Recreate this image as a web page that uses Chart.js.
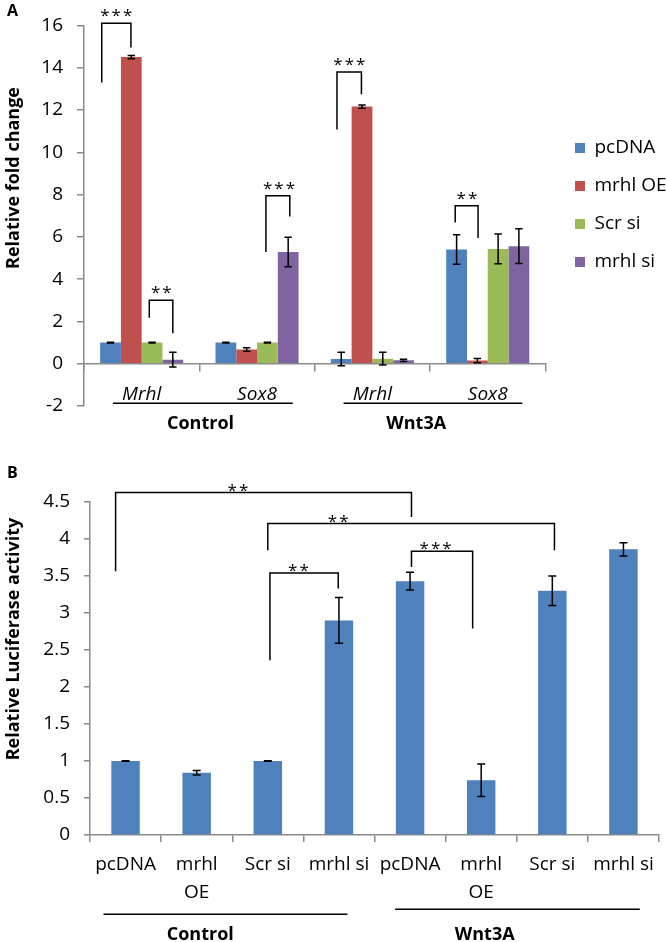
<!DOCTYPE html>
<html>
<head>
<meta charset="utf-8">
<script src="https://cdn.jsdelivr.net/npm/chart.js@4.4.1/dist/chart.umd.min.js"></script>
<style>
  body { margin: 0; background: #fff; font-family: "Open Sans", sans-serif; }
  .panel { position: absolute; left: 0; width: 666px; }
  #panel-a { top: 0; height: 436px; }
  #panel-b { top: 436px; height: 506px; }
  .letter { position: absolute; left: 7px; font-weight: bold; font-size: 16px; line-height: 1; }
</style>
</head>
<body>
<div class="panel" id="panel-a"><canvas id="chart-a"></canvas></div>
<div class="panel" id="panel-b"><canvas id="chart-b"></canvas></div>
<div class="letter" style="top:2px">A</div>
<div class="letter" style="top:464px">B</div>
<script>
// ---- panel A: relative fold change ----
const genesA = ['Mrhl', 'Sox8', 'Mrhl', 'Sox8'];
const seriesA = ['pcDNA', 'mrhl OE', 'Scr si', 'mrhl si'];
const pcdnaA = [1.0, 1.0, 0.22, 5.4];
const mrhlOeA = [14.5, 0.67, 12.16, 0.15];
const scrSiA = [1.0, 1.0, 0.24, 5.43];
const mrhlSiA = [0.19, 5.28, 0.16, 5.56];
const pcdnaErrA = [0.02, 0.02, 0.32, 0.7];
const mrhlOeErrA = [0.08, 0.08, 0.08, 0.1];
const scrSiErrA = [0.02, 0.02, 0.3, 0.7];
const mrhlSiErrA = [0.35, 0.7, 0.05, 0.82];
const ticksA = [-2, 16, 2]; // min, max, step

// ---- panel B: relative luciferase activity ----
const treatB = ['pcDNA', ['mrhl', 'OE'], 'Scr si', 'mrhl si', 'pcDNA', ['mrhl', 'OE'], 'Scr si', 'mrhl si'];
const luciferase = [1.0, 0.84, 1.0, 2.9, 3.43, 0.74, 3.3, 3.86];
const luciferaseErr = [0.005, 0.03, 0.005, 0.31, 0.12, 0.22, 0.2, 0.09];
const ticksB = [0, 4.5, 0.5];

// significance brackets (x in category units, y in data units)
const sigA = [
  { from: -0.346, to: -0.093, top: 16.1, left: 13.3, right: 14.96, stars: '***', at: -0.22 },
  { from: 1.693, to: 1.905, top: 13.8, left: 11.08, right: 12.74, stars: '***', at: 1.80 },
  { from: 0.066, to: 0.27, top: 3.0, left: 2.17, right: 1.44, stars: '**', at: 0.17 },
  { from: 1.077, to: 1.284, top: 7.94, left: 5.28, right: 6.96, stars: '***', at: 1.19 },
  { from: 2.718, to: 2.916, top: 7.47, left: 6.68, right: 5.95, stars: '**', at: 2.82 }
];
const sigB = [
  { from: -0.14, to: 4.02, top: 4.627, left: 3.564, right: 4.297, stars: '**', at: 1.58 },
  { from: 2.0, to: 6.03, top: 4.208, left: 3.848, right: 3.848, stars: '**', at: 2.99 },
  { from: 2.03, to: 2.99, top: 3.54, left: 2.363, right: 3.33, stars: '**', at: 2.43 },
  { from: 4.02, to: 4.88, top: 3.834, left: 3.62, right: 2.79, stars: '***', at: 4.36 }
];
const groupsA = [
  { label: 'Control', from: -0.25, to: 1.31, at: 0.51, lift: 0 },
  { label: 'Wnt3A', from: 1.75, to: 3.3, at: 2.38, lift: 0 }
];
const groupsB = [
  { label: 'Control', from: -0.31, to: 3.12, at: 1.05, lift: 0 },
  { label: 'Wnt3A', from: 3.79, to: 7.23, at: 5.05, lift: 5 }
];

const colors = ['#4F81BD', '#C0504D', '#9BBB59', '#8064A2'];
const axisGray = '#8a8a8a';
const FONT = '"Open Sans", sans-serif';

Chart.defaults.font.family = FONT;
Chart.defaults.color = '#000';

// error bars, brackets, group labels and the y title
function makeExtras(cfg) {
  return {
    id: 'extras',
    beforeLayout(chart) {
      if (chart.legend && cfg.legendWidth) {
        chart.legend.afterFit = function () { this.width = cfg.legendWidth; };
      }
    },
    afterLayout(chart) {
      const l = chart.legend;
      if (cfg.legendX && l) {
        const dx = cfg.legendX - l.left;
        l.left += dx; l.right += dx;
        l.top += cfg.legendDy; l.bottom += cfg.legendDy;
      }
    },
    afterDatasetsDraw(chart) {
      const ctx = chart.ctx;
      const xs = chart.scales.x, ys = chart.scales.y;
      ctx.save();
      ctx.strokeStyle = '#000';
      ctx.fillStyle = '#000';
      ctx.lineWidth = 1.5;

      chart.data.datasets.forEach((ds, di) => {
        chart.getDatasetMeta(di).data.forEach((bar, i) => {
          const t = ys.getPixelForValue(ds.data[i] + ds.errors[i]);
          const b = ys.getPixelForValue(ds.data[i] - ds.errors[i]);
          ctx.beginPath();
          ctx.moveTo(bar.x, t); ctx.lineTo(bar.x, b);
          ctx.moveTo(bar.x - cfg.cap, t); ctx.lineTo(bar.x + cfg.cap, t);
          ctx.moveTo(bar.x - cfg.cap, b); ctx.lineTo(bar.x + cfg.cap, b);
          ctx.stroke();
        });
      });

      ctx.font = cfg.starSize + 'px ' + FONT;
      ctx.textAlign = 'center';
      ctx.textBaseline = 'alphabetic';
      ctx.letterSpacing = '2px';
      cfg.brackets.forEach(s => {
        const x1 = xs.getPixelForValue(s.from), x2 = xs.getPixelForValue(s.to);
        const top = ys.getPixelForValue(s.top);
        ctx.beginPath();
        ctx.moveTo(x1, ys.getPixelForValue(s.left));
        ctx.lineTo(x1, top);
        ctx.lineTo(x2, top);
        ctx.lineTo(x2, ys.getPixelForValue(s.right));
        ctx.stroke();
        ctx.fillText(s.stars, xs.getPixelForValue(s.at) + 1, top + cfg.starDy);
      });
      ctx.letterSpacing = '0px';

      const base = ys.getPixelForValue(0);
      ctx.font = 'bold 18px ' + FONT;
      ctx.textBaseline = 'middle';
      cfg.groups.forEach(g => {
        const ly = base + cfg.lineDy - g.lift;
        ctx.beginPath();
        ctx.moveTo(xs.getPixelForValue(g.from), ly);
        ctx.lineTo(xs.getPixelForValue(g.to), ly);
        ctx.stroke();
        ctx.fillText(g.label, xs.getPixelForValue(g.at), base + cfg.labelDy);
      });

      ctx.translate(cfg.titleX, cfg.titleY);
      ctx.rotate(-Math.PI / 2);
      ctx.fillText(cfg.title, 0, 0);
      ctx.restore();
    }
  };
}

const axisBase = (tickLen) => ({
  grid: { display: true, drawOnChartArea: false, drawTicks: true, tickLength: tickLen, color: axisGray, lineWidth: 1.5 },
  border: { display: true, color: axisGray, width: 1.5 }
});
const plainNum = v => String(v);

new Chart(document.getElementById('chart-a'), {
  type: 'bar',
  data: {
    labels: genesA,
    datasets: [pcdnaA, mrhlOeA, scrSiA, mrhlSiA].map((d, i) => ({
      label: seriesA[i],
      data: d,
      errors: [pcdnaErrA, mrhlOeErrA, scrSiErrA, mrhlSiErrA][i],
      backgroundColor: colors[i],
      borderWidth: 0,
      categoryPercentage: 0.72,
      barPercentage: 1.0
    }))
  },
  options: {
    responsive: true,
    maintainAspectRatio: false,
    animation: false,
    layout: { padding: { top: 20, bottom: 30, left: 0, right: 0 } },
    plugins: {
      tooltip: { enabled: false },
      legend: {
        position: 'right',
        align: 'center',
        labels: { boxWidth: 10, boxHeight: 10, padding: 19, font: { size: 19 }, color: '#000' }
      }
    },
    scales: {
      x: Object.assign(axisBase(7), {
        position: { y: 0 },
        ticks: { font: { size: 19, style: 'italic' }, padding: 12, color: '#000' }
      }),
      y: Object.assign(axisBase(7), {
        min: ticksA[0], max: ticksA[1],
        ticks: { stepSize: ticksA[2], font: { size: 19 }, padding: 14, color: '#000', callback: plainNum },
        afterFit: s => { s.width = 84; }
      })
    }
  },
  plugins: [makeExtras({
    cap: 3.7, starSize: 17, starDy: -2, brackets: sigA, groups: groupsA,
    lineDy: 39.5, labelDy: 60, title: 'Relative fold change', titleX: 14, titleY: 178,
    legendWidth: 123, legendX: 556, legendDy: -8
  })]
});

new Chart(document.getElementById('chart-b'), {
  type: 'bar',
  data: {
    labels: treatB,
    datasets: [{
      label: 'Relative Luciferase activity',
      data: luciferase,
      errors: luciferaseErr,
      backgroundColor: colors[0],
      borderWidth: 0,
      categoryPercentage: 1.0,
      barPercentage: 0.4
    }]
  },
  options: {
    responsive: true,
    maintainAspectRatio: false,
    animation: false,
    layout: { padding: { top: 66, bottom: 0, left: 0, right: 7 } },
    plugins: {
      tooltip: { enabled: false },
      legend: { display: false }
    },
    scales: {
      x: Object.assign(axisBase(7), {
        ticks: { font: { size: 19, lineHeight: 1.46 }, padding: 9, color: '#000', maxRotation: 0, autoSkip: false },
        afterFit: s => { s.height = 107; }
      }),
      y: Object.assign(axisBase(6), {
        min: ticksB[0], max: ticksB[1],
        ticks: { stepSize: ticksB[2], font: { size: 19 }, padding: 14, color: '#000', callback: plainNum },
        afterFit: s => { s.width = 90; }
      })
    }
  },
  plugins: [makeExtras({
    cap: 4, starSize: 17, starDy: 3, brackets: sigB, groups: groupsB,
    lineDy: 79.3, labelDy: 100, title: 'Relative Luciferase activity', titleX: 14, titleY: 203
  })]
});
</script>
</body>
</html>
